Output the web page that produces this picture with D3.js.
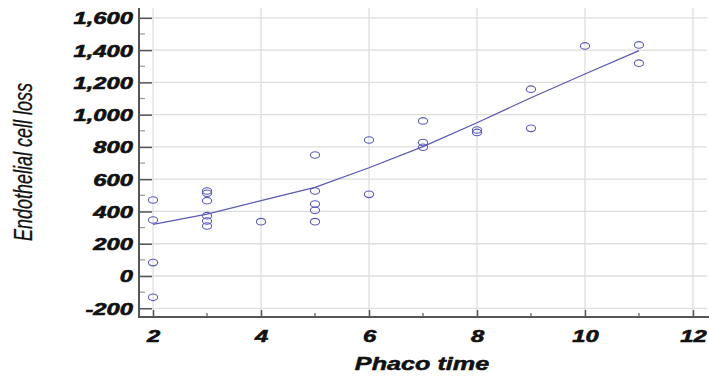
<!DOCTYPE html>
<html>
<head>
<meta charset="utf-8">
<script src="https://cdn.jsdelivr.net/npm/d3@7/dist/d3.min.js"></script>
<style>
  html, body { margin: 0; padding: 0; background: #fff; }
  svg { display: block; }
</style>
</head>
<body>
<svg id="chart" width="709" height="379"></svg>
<script>
// ---- data ----
const phacoTime = [2,2,2,2, 3,3,3,3,3,3, 4, 5,5,5,5,5, 6,6, 7,7,7, 8,8, 9,9, 10, 11,11];
const cellLoss  = [471,347,83,-132, 527,513,467,374,341,310, 337, 750,527,446,407,337, 843,506, 961,827,798, 905,890, 1158,915, 1426, 1432,1319];
const fitX = [2,3,4,5,6,7,8,9,10,11];
const fitY = [320,384,467,550,671,802,950,1105,1252,1397];
const xTicks = [2,4,6,8,10,12];
const xTickLabels = ["2","4","6","8","10","12"];
const xMinorTicks = [3,5,7,9,11];
const yTicks = [-200,0,200,400,600,800,1000,1200,1400,1600];
const yTickLabels = ["-200","0","200","400","600","800","1,000","1,200","1,400","1,600"];
const yMinorTicks = [-100,100,300,500,700,900,1100,1300,1500];
const xTitle = "Phaco time";
const yTitle = "Endothelial cell loss";

// ---- layout ----
const SX = 1.4; // horizontal stretch of the reference
const svg = d3.select("#chart");
const pLeft = 139, pRight = 707, pTop = 8, pBottom = 317;
const x = d3.scaleLinear().domain([1.74, 12.26]).range([pLeft, pRight]);
const y = d3.scaleLinear().domain([-254, 1661]).range([pBottom, pTop]);
const font = "'Liberation Sans', Arial, Helvetica, sans-serif";

// gridlines
const grid = svg.append("g").attr("stroke", "#dedede").attr("stroke-width", 1.3);
grid.selectAll("line.v").data(xTicks).join("line").attr("class", "v")
  .attr("x1", d => x(d)).attr("x2", d => x(d)).attr("y1", pTop).attr("y2", pBottom);
grid.selectAll("line.h").data(yTicks).join("line").attr("class", "h")
  .attr("x1", pLeft).attr("x2", pRight).attr("y1", d => y(d)).attr("y2", d => y(d));

// y axis
const yAxis = svg.append("g").attr("transform", `translate(${pLeft},0)`)
  .call(d3.axisLeft(y).tickValues(yTicks).tickSize(-13).tickFormat((d, i) => yTickLabels[i]));
yAxis.select(".domain").remove();
yAxis.selectAll(".tick line").attr("stroke", "#555").attr("stroke-width", 1.5);
yAxis.selectAll(".tick text")
  .attr("x", 0).attr("dy", "0.35em")
  .attr("transform", `translate(-6,0) scale(${SX},1)`)
  .attr("text-anchor", "end")
  .style("font-family", font).style("font-size", "17px")
  .style("font-weight", "bold").style("font-style", "italic")
  .attr("fill", "#111").attr("stroke", "#111").attr("stroke-width", 0.6);
svg.append("g").selectAll("line").data(yMinorTicks).join("line")
  .attr("x1", pLeft).attr("x2", pLeft + 6).attr("y1", d => y(d)).attr("y2", d => y(d))
  .attr("stroke", "#999").attr("stroke-width", 1.2);

// x axis
const xAxis = svg.append("g").attr("transform", `translate(0,${pBottom})`)
  .call(d3.axisBottom(x).tickValues(xTicks).tickSize(-7).tickFormat((d, i) => xTickLabels[i]));
xAxis.select(".domain").remove();
xAxis.selectAll(".tick line").attr("stroke", "#555").attr("stroke-width", 1.5);
xAxis.selectAll(".tick text")
  .attr("y", 0).attr("dy", null)
  .attr("transform", `translate(0,25) scale(${SX},1)`)
  .attr("text-anchor", "middle")
  .style("font-family", font).style("font-size", "17px")
  .style("font-weight", "bold").style("font-style", "italic")
  .attr("fill", "#111").attr("stroke", "#111").attr("stroke-width", 0.6);
svg.append("g").selectAll("line").data(xMinorTicks).join("line")
  .attr("x1", d => x(d)).attr("x2", d => x(d)).attr("y1", pBottom).attr("y2", pBottom - 4)
  .attr("stroke", "#555").attr("stroke-width", 1.2);

// axis lines
svg.append("line").attr("x1", pLeft).attr("x2", pLeft).attr("y1", pTop).attr("y2", pBottom + 1)
  .attr("stroke", "#555").attr("stroke-width", 2);
svg.append("line").attr("x1", pLeft - 1).attr("x2", 709).attr("y1", pBottom).attr("y2", pBottom)
  .attr("stroke", "#555").attr("stroke-width", 2);

// fit line
svg.append("path")
  .datum(fitX.map((d, i) => [d, fitY[i]]))
  .attr("fill", "none").attr("stroke", "#5a5ab4").attr("stroke-width", 1.3)
  .attr("d", d3.line().x(d => x(d[0])).y(d => y(d[1])));

// points
svg.append("g").selectAll("ellipse").data(phacoTime.map((d, i) => [d, cellLoss[i]])).join("ellipse")
  .attr("cx", d => x(d[0])).attr("cy", d => y(d[1]))
  .attr("rx", 4.6).attr("ry", 3.3)
  .attr("fill", "none").attr("stroke", "#5a5ab8").attr("stroke-width", 1.1);

// titles
svg.append("text").text(xTitle)
  .attr("transform", `translate(422,370) scale(${SX},1)`)
  .attr("text-anchor", "middle")
  .style("font-family", font).style("font-size", "18px")
  .style("font-weight", "bold").style("font-style", "italic")
  .attr("fill", "#111").attr("stroke", "#111").attr("stroke-width", 0.5);
svg.append("text").text(yTitle)
  .attr("transform", `translate(32,162) scale(${SX},1) rotate(-90)`)
  .attr("text-anchor", "middle")
  .style("font-family", font).style("font-size", "18px")
  .style("font-style", "italic").attr("fill", "#111").attr("stroke", "#111").attr("stroke-width", 0.2);
</script>
</body>
</html>
